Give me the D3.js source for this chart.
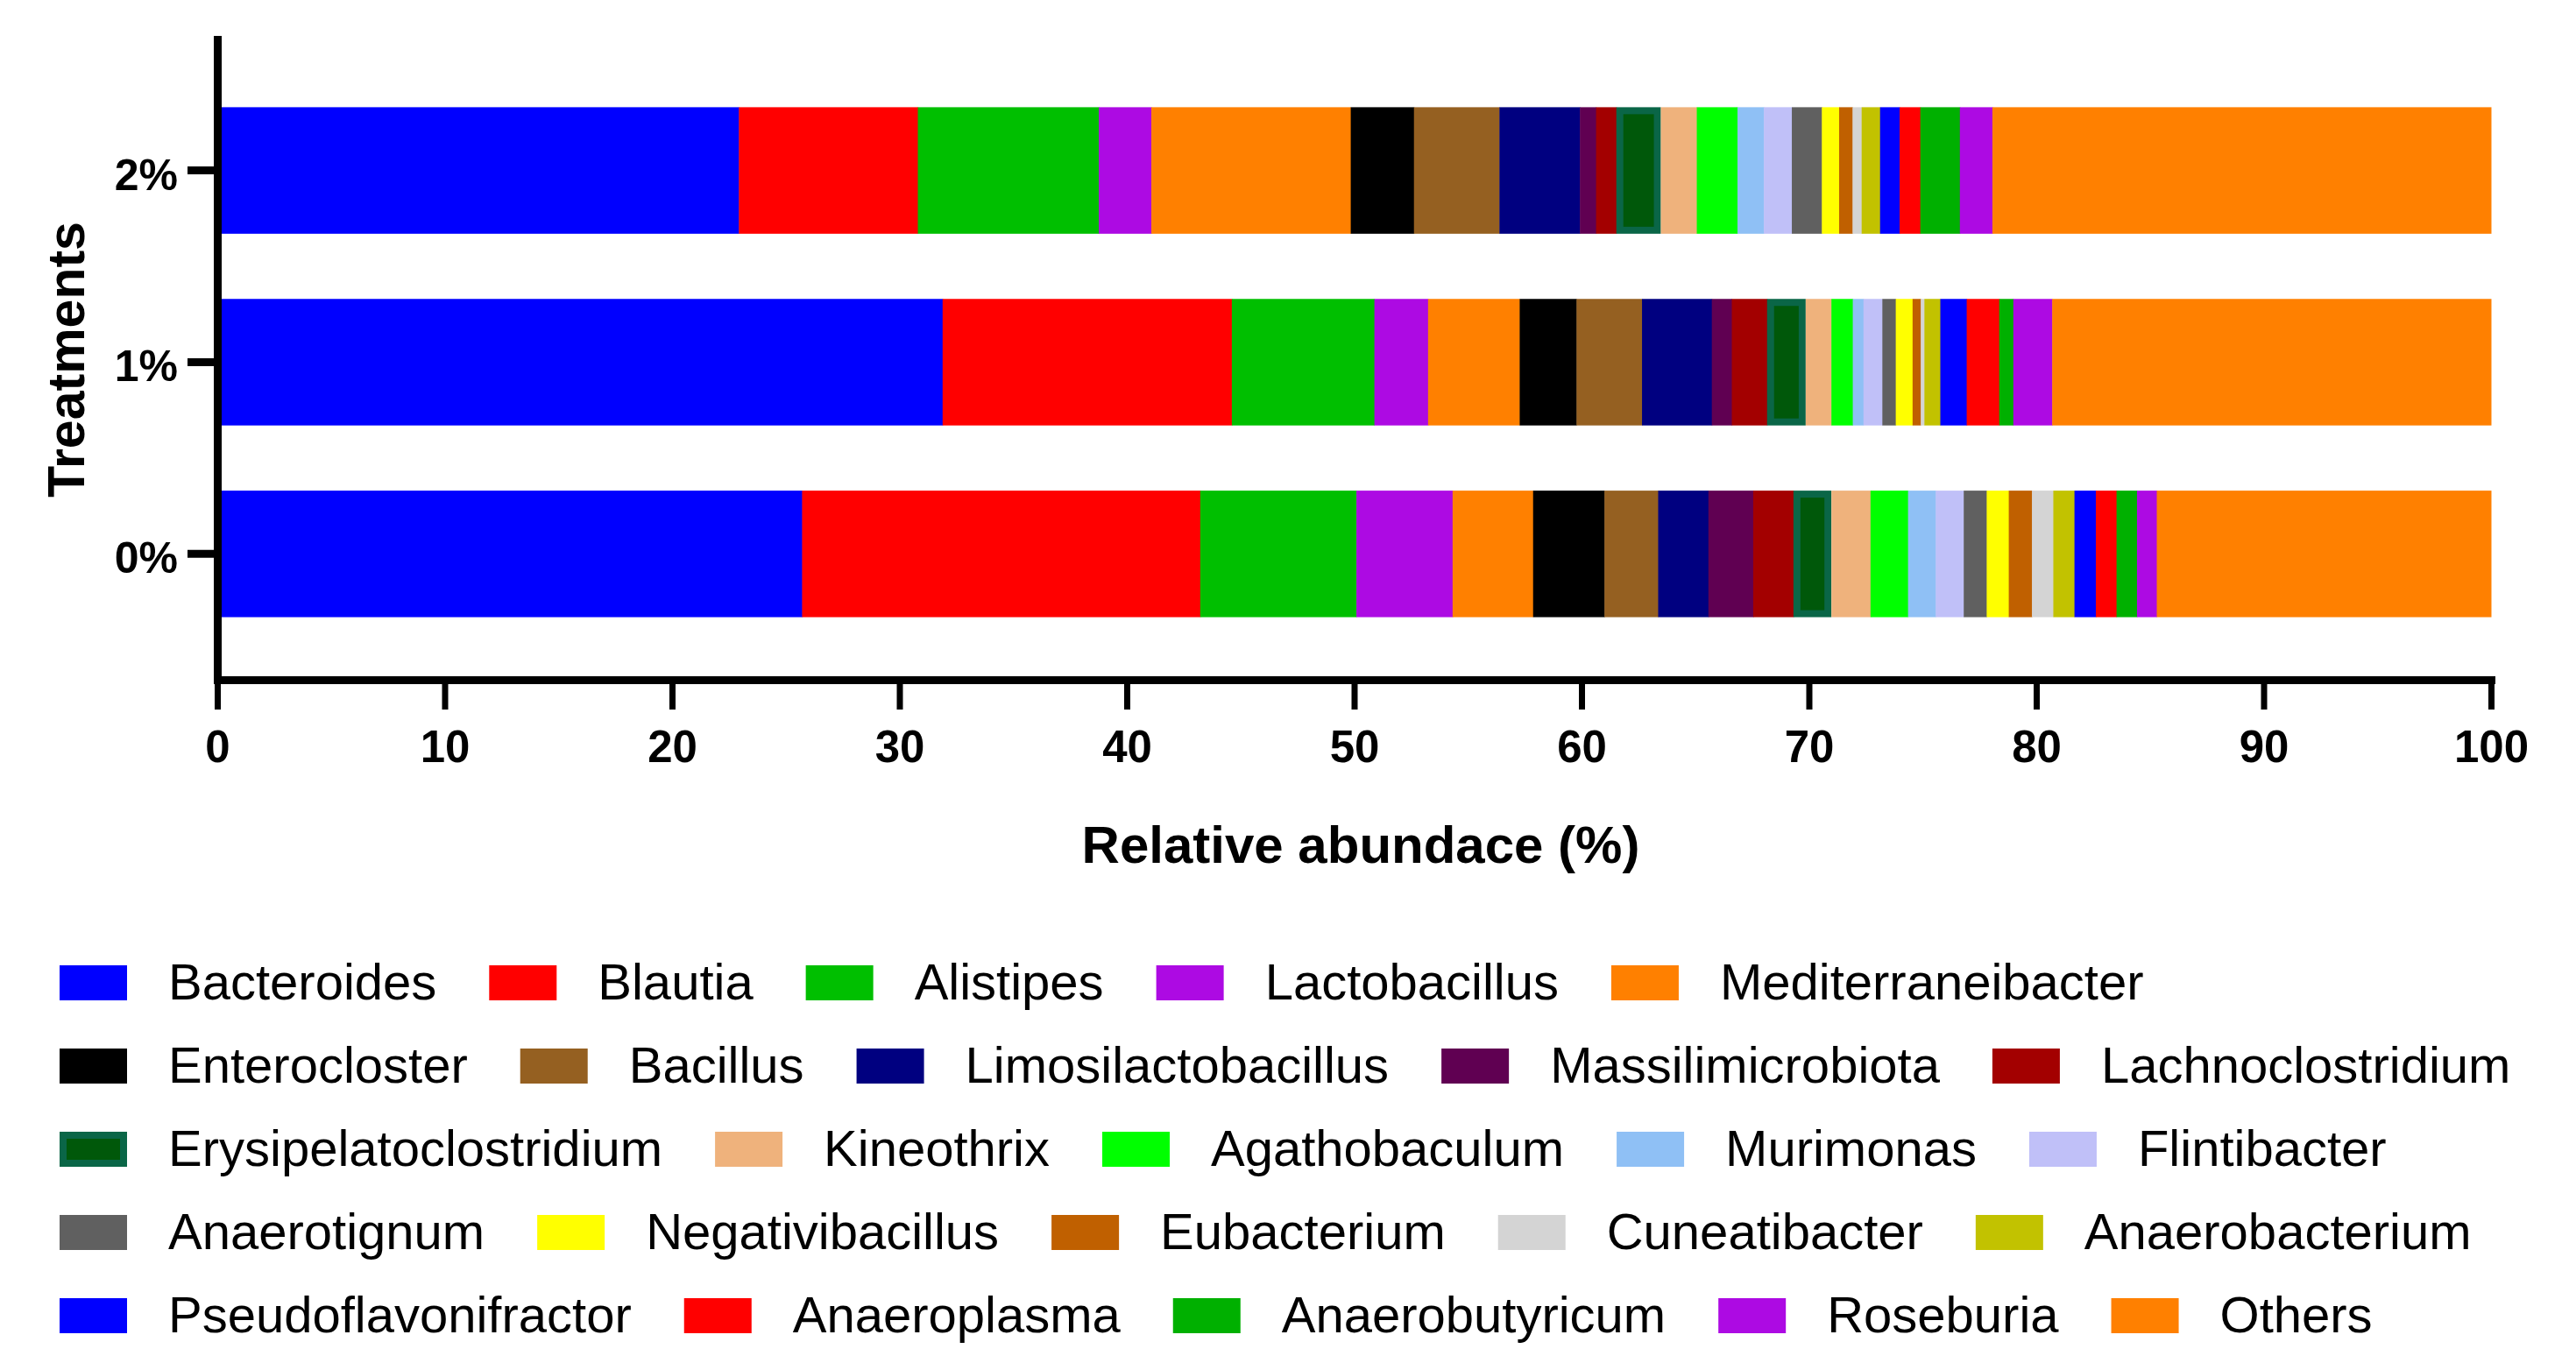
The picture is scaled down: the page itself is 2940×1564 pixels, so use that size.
<!DOCTYPE html>
<html>
<head>
<meta charset="utf-8">
<script src="https://cdn.jsdelivr.net/npm/d3@7"></script>
<style>
  body { margin: 0; background: #fff; }
  text { font-family: "Liberation Sans", Arial, sans-serif; fill: #000; }
</style>
</head>
<body>
<div id="chart"></div>
<script>
// treatments, top to bottom
var treatments = ["2%", "1%", "0%"];

var genera = ["Bacteroides", "Blautia", "Alistipes", "Lactobacillus", "Mediterraneibacter",
  "Enterocloster", "Bacillus", "Limosilactobacillus", "Massilimicrobiota", "Lachnoclostridium",
  "Erysipelatoclostridium", "Kineothrix", "Agathobaculum", "Murimonas", "Flintibacter",
  "Anaerotignum", "Negativibacillus", "Eubacterium", "Cuneatibacter", "Anaerobacterium",
  "Pseudoflavonifractor", "Anaeroplasma", "Anaerobutyricum", "Roseburia", "Others"];

var colors = ["#0000ff", "#ff0000", "#00bf00", "#ad0ae3", "#ff8000",
  "#000000", "#956021", "#000080", "#600052", "#a30000",
  "#00580a", "#efb27c", "#00ff00", "#8fc0f5", "#c0c0f8",
  "#606060", "#ffff00", "#c06000", "#d4d4d4", "#c2c200",
  "#0000ff", "#ff0000", "#00b000", "#ad0ae3", "#ff8000"];

// relative abundance (%) per genus, same order as genera
var pct2 = [22.94, 7.87, 7.96, 2.31, 8.77, 2.78, 3.76, 3.54, 0.71, 0.89,
  1.96, 1.58, 1.79, 1.16, 1.23, 1.32, 0.76, 0.59, 0.40, 0.81,
  0.86, 0.91, 1.74, 1.43, 21.93];
var pct1 = [31.90, 12.72, 6.27, 2.36, 4.03, 2.50, 2.88, 3.07, 0.88, 1.55,
  1.70, 1.13, 0.94, 0.47, 0.83, 0.59, 0.74, 0.36, 0.16, 0.70,
  1.16, 1.43, 0.62, 1.71, 19.30];
var pct0 = [25.72, 17.51, 6.87, 4.23, 3.54, 3.14, 2.36, 2.21, 1.97, 1.77,
  1.67, 1.72, 1.65, 1.22, 1.23, 1.01, 0.97, 1.02, 0.94, 0.93,
  0.94, 0.91, 0.90, 0.87, 14.70];

var xTicks = [0, 10, 20, 30, 40, 50, 60, 70, 80, 90, 100];

var width = 2940, height = 1564;
var plotLeft = 248, plotRight = 2843, plotTop = 45, plotBottom = 776;

var series = [pct2, pct1, pct0];
var rows = treatments.map(function(t, i){
    var r = { treatment: t };
    genera.forEach(function(g, j){ r[g] = series[i][j]; });
    return r;
});

var color = d3.scaleOrdinal().domain(genera).range(colors);

var x = d3.scaleLinear().domain([0, 100]).range([plotLeft, plotRight]);
var y = d3.scaleBand().domain(treatments).range([plotTop, plotBottom])
    .padding(0.34).align(0.52);

var svg = d3.select("#chart").append("svg")
    .attr("width", width)
    .attr("height", height);

svg.append("rect").attr("width", width).attr("height", height).attr("fill", "#fff");

var stacked = d3.stack().keys(genera)(rows);

var layer = svg.append("g").selectAll("g")
    .data(stacked)
    .enter().append("g")
    .attr("fill", function(d){ return color(d.key); });

layer.selectAll("rect")
    .data(function(d){ return d.map(function(p){ p.key = d.key; return p; }); })
    .enter().append("rect")
    .attr("x", function(d){ return x(d[0]); })
    .attr("y", function(d){ return y(d.data.treatment); })
    .attr("width", function(d){ return x(d[1]) - x(d[0]) + 0.5; })
    .attr("height", y.bandwidth());

// Erysipelatoclostridium has a teal border in the original
layer.filter(function(d){ return d.key === "Erysipelatoclostridium"; })
    .selectAll("rect")
    .attr("stroke", "#0a6647")
    .attr("stroke-width", 8)
    .attr("x", function(d){ return x(d[0]) + 4; })
    .attr("y", function(d){ return y(d.data.treatment) + 4; })
    .attr("width", function(d){ return Math.max(0, x(d[1]) - x(d[0]) - 8); })
    .attr("height", y.bandwidth() - 8);

// axes
var xAxis = svg.append("g")
    .attr("transform", "translate(0," + plotBottom + ")")
    .call(d3.axisBottom(x).tickValues(xTicks).tickSize(34).tickSizeOuter(0));
xAxis.select(".domain").attr("stroke-width", 9).attr("stroke-linecap", "square");
xAxis.selectAll(".tick line").attr("stroke-width", 7);
xAxis.selectAll("text")
    .attr("y", 94).attr("dy", null)
    .attr("font-size", 51).attr("font-weight", "bold")
    .style("font-family", "'Liberation Sans', Arial, sans-serif");

var yAxis = svg.append("g")
    .attr("transform", "translate(" + plotLeft + ",0)")
    .call(d3.axisLeft(y).tickSize(34).tickSizeOuter(0).tickPadding(11));
yAxis.select(".domain").attr("stroke-width", 9).attr("stroke-linecap", "square");
yAxis.selectAll(".tick line").attr("stroke-width", 9);
yAxis.selectAll("text")
    .attr("dy", "0.44em")
    .attr("font-size", 50).attr("font-weight", "bold")
    .style("font-family", "'Liberation Sans', Arial, sans-serif");

// axis titles
svg.append("text")
    .attr("transform", "translate(96," + ((plotTop + plotBottom) / 2) + ") rotate(-90)")
    .attr("text-anchor", "middle")
    .attr("font-size", 59)
    .attr("font-weight", "bold")
    .text("Treatments");

svg.append("text")
    .attr("x", 1553)
    .attr("y", 985)
    .attr("text-anchor", "middle")
    .attr("font-size", 60)
    .attr("font-weight", "bold")
    .text("Relative abundace (%)");

// legend, 5 per row, flowing left to right
var legend = svg.append("g");
var perRow = 5, rowY0 = 1122, rowStep = 95;
var cursor = 68;
genera.forEach(function(g, i){
    if (i % perRow === 0) cursor = 68;
    var cy = rowY0 + Math.floor(i / perRow) * rowStep;
    var item = legend.append("g");
    var sw = item.append("rect")
        .attr("x", cursor)
        .attr("y", cy - 20)
        .attr("width", 77)
        .attr("height", 40)
        .attr("fill", color(g));
    if (g === "Erysipelatoclostridium") {
        sw.attr("stroke", "#0a6647").attr("stroke-width", 8)
          .attr("x", cursor + 4).attr("y", cy - 16).attr("width", 69).attr("height", 32);
    }
    var t = item.append("text")
        .attr("x", cursor + 124)
        .attr("y", cy + 19)
        .attr("font-size", 58)
        .text(g);
    cursor = cursor + 124 + t.node().getComputedTextLength() + 60;
});
</script>
</body>
</html>
